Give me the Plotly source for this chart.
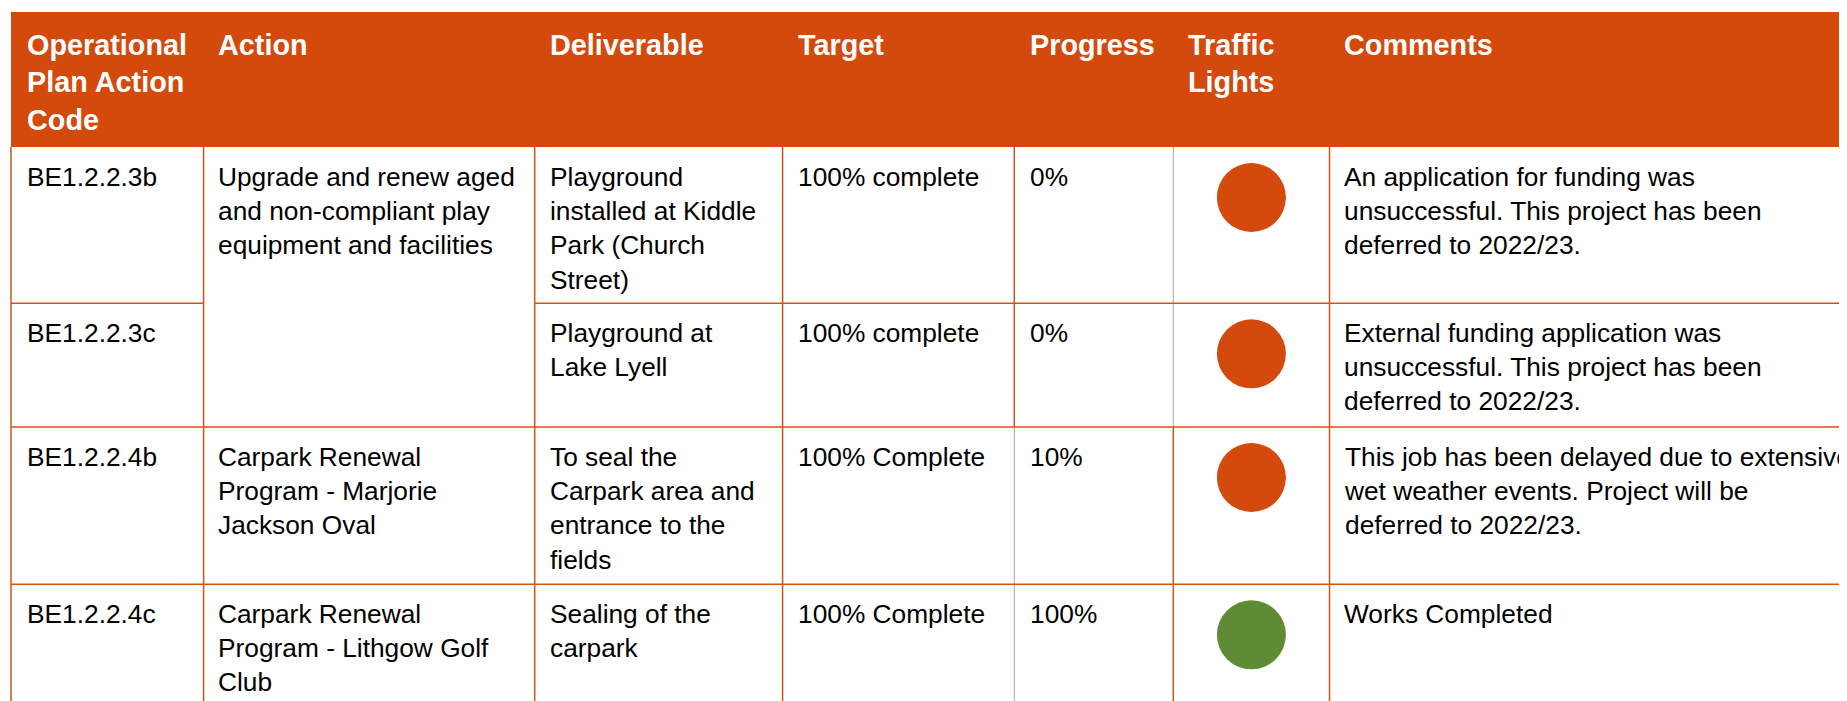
import plotly.graph_objects as go

# ---------------- data ----------------
headers = ["Operational<br>Plan Action<br>Code", "Action", "Deliverable", "Target",
           "Progress", "Traffic<br>Lights", "Comments"]
codes = ["BE1.2.2.3b", "BE1.2.2.3c", "BE1.2.2.4b", "BE1.2.2.4c"]
actions = ["Upgrade and renew aged<br>and non-compliant play<br>equipment and facilities",
           "",
           "Carpark Renewal<br>Program - Marjorie<br>Jackson Oval",
           "Carpark Renewal<br>Program - Lithgow Golf<br>Club"]
action_span = [2, 0, 1, 1]
deliverables = ["Playground<br>installed at Kiddle<br>Park (Church<br>Street)",
                "Playground at<br>Lake Lyell",
                "To seal the<br>Carpark area and<br>entrance to the<br>fields",
                "Sealing of the<br>carpark"]
targets = ["100% complete", "100% complete", "100% Complete", "100% Complete"]
progress = ["0%", "0%", "10%", "100%"]
lights = ["red", "red", "red", "green"]
comments = ["An application for funding was<br>unsuccessful. This project has been<br>deferred to 2022/23.",
            "External funding application was<br>unsuccessful. This project has been<br>deferred to 2022/23.",
            "This job has been delayed due to extensive<br>wet weather events. Project will be<br>deferred to 2022/23.",
            "Works Completed"]

# ---------------- layout / style ----------------
W, H = 1847, 701
OFF = 8  # page body margin: the figure starts 8px in from the window corner
ORANGE = "#D44A0C"
LINE = "#D0531A"
GREY = "#A6A6A6"
GREEN = "#5E8B34"
light_colors = {"red": ORANGE, "green": GREEN}
FONT = "Liberation Sans, Arial, sans-serif"

col_edges = [11, 203.6, 534.7, 782.6, 1014.3, 1173.3, 1329.5, W + 5]
header_top, header_bottom = 12, 147
row_edges = [147, 303.3, 427, 584.3, H + 5]
text_pad = [13.5, 12.5, 13, 13, 14, 13, 12.5]

fig = go.Figure()
shapes = []
annotations = []

# header band
shapes.append(dict(type="rect", xref="x", yref="y", x0=col_edges[0], x1=col_edges[-1],
                   y0=header_top, y1=header_bottom, fillcolor=ORANGE, line=dict(width=0),
                   layer="below"))

for j, h in enumerate(headers):
    annotations.append(dict(x=col_edges[j] + text_pad[j], y=header_top + 14.5, xref="x", yref="y",
                            text=h, showarrow=False, xanchor="left", yanchor="top", align="left",
                            font=dict(family=FONT, size=28.8, color="white", weight="bold")))

# grid lines
def line(x0, y0, x1, y1, color=LINE, width=1.5):
    shapes.append(dict(type="line", xref="x", yref="y", x0=x0, y0=y0, x1=x1, y1=y1,
                       line=dict(color=color, width=width)))

n = len(codes)
for i in range(n):
    top, bot = row_edges[i], row_edges[i + 1]
    grey_col = 5 if i < 2 else 4
    for j in range(0, 7):
        c = GREY if j == grey_col else LINE
        w = 1 if j == grey_col else 1.5
        line(col_edges[j], top, col_edges[j], bot, c, w)
    if i > 0:
        if action_span[i] == 0:
            line(col_edges[0], top, col_edges[1], top)
            line(col_edges[2], top, col_edges[-1], top)
        else:
            line(col_edges[0], top, col_edges[-1], top)

# body text
cols = [codes, actions, deliverables, targets, progress, None, comments]
for i in range(n):
    top = row_edges[i]
    for j, col in enumerate(cols):
        if col is None:
            continue
        if j == 1 and action_span[i] == 0:
            continue
        annotations.append(dict(x=col_edges[j] + text_pad[j], y=top + 12.5, xref="x", yref="y",
                                text=col[i], showarrow=False, xanchor="left", yanchor="top",
                                align="left", font=dict(family=FONT, size=26.3, color="black")))

# traffic lights
cx = [(col_edges[5] + col_edges[6]) / 2] * n
cy = [row_edges[i] + 50.5 for i in range(n)]
fig.add_trace(go.Scatter(x=cx, y=cy, mode="markers", hoverinfo="skip",
                         marker=dict(size=69, color=[light_colors[l] for l in lights],
                                     line=dict(width=0)),
                         cliponaxis=False, showlegend=False))

fig.update_layout(width=W - OFF, height=H - OFF, margin=dict(l=0, r=0, t=0, b=0),
                  paper_bgcolor="white", plot_bgcolor="white",
                  shapes=shapes, annotations=annotations,
                  xaxis=dict(range=[OFF, W], visible=False, fixedrange=True),
                  yaxis=dict(range=[H, OFF], visible=False, fixedrange=True))

fig.write_html("out.html")
